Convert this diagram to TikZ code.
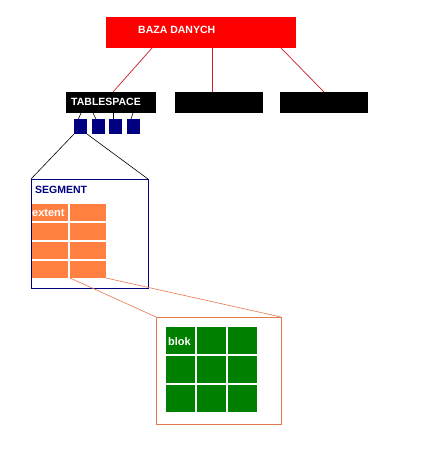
\documentclass[tikz,border=0pt]{standalone}
\usepackage{fontspec}
\setmainfont{Liberation Sans}
\definecolor{dbred}{RGB}{255,0,0}
\definecolor{navyc}{RGB}{0,0,128}
\definecolor{coral}{RGB}{255,128,64}
\definecolor{coralline}{RGB}{230,120,80}
\definecolor{greenc}{RGB}{0,128,0}
\definecolor{redline}{RGB}{200,30,40}
\begin{document}
\begin{tikzpicture}[x=1pt,y=-1pt,
  blk/.style={inner sep=0pt,outer sep=0pt,draw=none},
  lbl/.style={inner sep=0pt,anchor=west,font=\fontsize{10.5}{12}\selectfont\bfseries},
  rline/.style={draw=redline,line width=0.7pt},
  kline/.style={draw=black,line width=0.6pt},
  nline/.style={draw=navyc!70!black,line width=0.6pt},
  oline/.style={draw=coralline,line width=0.6pt},
  cell/.style={blk,fill=coral,minimum width=36pt,minimum height=17pt},
  gcell/.style={blk,fill=greenc,minimum width=29pt,minimum height=27pt},
  sq/.style={blk,fill=navyc,minimum width=13pt,minimum height=15pt}]
\path[use as bounding box,fill=white] (0,0) rectangle (433,456);
% database
\node[blk,fill=dbred,minimum width=190pt,minimum height=31pt] (db) at (201,32.5) {};
\node[lbl,text=white] (dbl) at (138,30) {BAZA DANYCH};
% tablespaces
\node[blk,fill=black,minimum width=90pt,minimum height=21pt] (ts) at (111,102.5) {};
\node[lbl,text=white] (tsl) at (71,102) {TABLESPACE};
\node[blk,fill=black,minimum width=88pt,minimum height=21pt] (ts2) at (219,102.5) {};
\node[blk,fill=black,minimum width=88pt,minimum height=21pt] (ts3) at (324,102.5) {};
\draw[rline] (db.south -| 152,0) -- (ts.north -| 113,0);
\draw[rline] (db.south -| 212,0) -- (ts2.north -| 212,0);
\draw[rline] (db.south -| 281,0) -- (ts3.north);
% segments
\node[sq] (s1) at (80.5,126.5) {};
\node[sq] (s2) at (98,126.5) {};
\node[sq] (s3) at (115.5,126.5) {};
\node[sq] (s4) at (133,126.5) {};
\draw[kline] (ts.south -| 81,0) -- (s1.north -| 78.5,0);
\draw[kline] (ts.south -| 93,0) -- (s2.north -| 96,0);
\draw[kline] (ts.south -| 113,0) -- (s3.north -| 113,0);
\draw[kline] (ts.south -| 133,0) -- (s4.north -| 131,0);
% segment box
\node[blk,draw=navyc,line width=0.8pt,minimum width=117pt,minimum height=109pt] (seg) at (89.5,233.5) {};
\node[lbl,text=navyc] (segl) at (35,190) {SEGMENT};
\draw[kline] (s1.south west) -- (seg.north west);
\draw[kline] (s1.south east) -- (seg.north east);
% extents
\foreach \r/\y in {1/212.5,2/231.5,3/250.5,4/269.5}{
  \node[cell] (e\r a) at (50,\y) {};
  \node[cell] (e\r b) at (88,\y) {};
}
\node[lbl,text=white,font=\fontsize{11}{12}\selectfont\bfseries] (extl) at (32,213) {extent};
% block box
\node[blk,draw=coralline,line width=0.8pt,minimum width=125pt,minimum height=107pt] (zb) at (218.5,370.5) {};
\draw[oline] (e4b.south west) -- (zb.north west);
\draw[oline] (e4b.south east) -- (zb.north east);
\foreach \r/\y in {1/340.5,2/369.5,3/398.5}{
  \foreach \c/\x in {1/180.5,2/211.5,3/242.5}{
    \node[gcell] (g\r\c) at (\x,\y) {};
  }
}
\node[lbl,text=white,font=\fontsize{11}{12}\selectfont\bfseries] (blokl) at (168,342) {blok};
\end{tikzpicture}
\end{document}
